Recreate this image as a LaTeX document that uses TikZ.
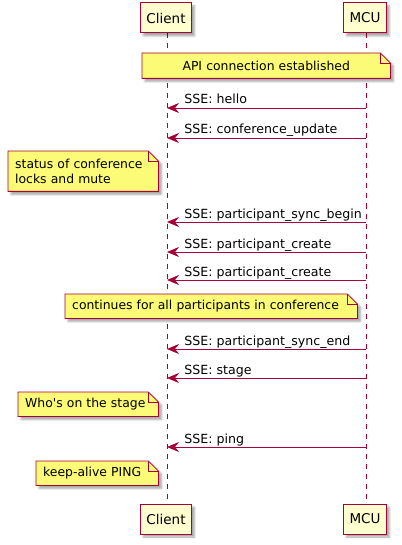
\documentclass[tikz,border=0pt]{standalone}
\usepackage{fontspec}
\setmainfont{DejaVu Sans}
\usetikzlibrary{positioning, arrows.meta, backgrounds, shadows.blur}
\definecolor{umlred}{HTML}{A80036}
\definecolor{partfill}{HTML}{FEFECE}
\definecolor{notefill}{HTML}{FBFB77}

% note body with folded corner, drawn behind the note text
\newcommand{\foldnote}[1]{%
  \begin{pgfonlayer}{background}
    \path[draw=umlred, fill=notefill, line width=0.8pt,
      blur shadow={shadow xshift=3pt, shadow yshift=-3pt, shadow blur radius=2pt, shadow opacity=35}]
      (#1.south west) -- (#1.north west) -- ([xshift=-10pt]#1.north east)
      -- ([yshift=-10pt]#1.north east) -- (#1.south east) -- cycle;
    \draw[umlred, line width=0.8pt] ([xshift=-10pt]#1.north east) |- ([yshift=-10pt]#1.north east);
  \end{pgfonlayer}}

\begin{document}
\begin{tikzpicture}[
      x=1pt, y=-1pt, >=Stealth,
      partbox/.style={rectangle, draw=umlred, fill=partfill, line width=1pt,
        minimum height=30pt, inner xsep=6pt, font=\fontsize{13.5}{15}\selectfont, text=black,
        blur shadow={shadow xshift=3pt, shadow yshift=-3pt, shadow blur radius=2pt, shadow opacity=35}},
      lifeline/.style={draw=umlred, line width=0.8pt, dash pattern=on 5pt off 5pt},
      msg/.style={->, draw=umlred, line width=0.8pt, >={Stealth[length=12pt, width=10pt, inset=4pt]}},
      msglabel/.style={pos=1, anchor=base west, xshift=17pt, yshift=4pt, inner sep=0pt,
        font=\fontsize{12.6}{15}\selectfont, text=black},
      notebox/.style 2 args={anchor=north west, minimum width=#1, minimum height=#2,
        text width=#1-14pt, inner xsep=7pt, inner ysep=3pt, align=left,
        font=\fontsize{12.4}{15}\selectfont, text=black}
    ]
    \useasboundingbox (0,0) rectangle (401,545);
    % Participants
    \node[partbox] (clientTop) at (166,18) {Client};
    \node[partbox] (mcuTop) at (365,18) {MCU};
    \node[partbox] (clientBot) at (166,519) {Client};
    \node[partbox] (mcuBot) at (365,519) {MCU};
    \begin{pgfonlayer}{background}
      \draw[lifeline] ([xshift=1pt]clientTop.south) -- ([xshift=1pt]clientBot.north);
      \draw[lifeline] ([xshift=1pt]mcuTop.south) -- ([xshift=1pt]mcuBot.north);
    \end{pgfonlayer}
    % Notes
    \node[notebox={248pt}{25pt}, align=center] (apinote) at (142,53) {API connection established};
    \foldnote{apinote}
    \node[notebox={150pt}{40pt}] (statusnote) at (8,151) {status of conference\\locks and mute};
    \foldnote{statusnote}
    \node[notebox={292pt}{24pt}] (contnote) at (65,294) {continues for all participants in conference};
    \foldnote{contnote}
    \node[notebox={140pt}{24pt}] (stagenote) at (18,392) {Who\textquotesingle s on the stage};
    \foldnote{stagenote}
    \node[notebox={122pt}{24pt}] (pingnote) at (36,461) {keep-alive PING};
    \foldnote{pingnote}
    % Messages MCU -> Client
    \coordinate (m1) at (366,108); \coordinate (c1) at (167,108);
    \draw[msg] (m1) -- (c1) node[msglabel] {SSE: hello};
    \coordinate (m2) at (366,138); \coordinate (c2) at (167,138);
    \draw[msg] (m2) -- (c2) node[msglabel] {SSE: conference\_update};
    \coordinate (m3) at (366,222); \coordinate (c3) at (167,222);
    \draw[msg] (m3) -- (c3) node[msglabel] {SSE: participant\_sync\_begin};
    \coordinate (m4) at (366,252); \coordinate (c4) at (167,252);
    \draw[msg] (m4) -- (c4) node[msglabel] {SSE: participant\_create};
    \coordinate (m5) at (366,280); \coordinate (c5) at (167,280);
    \draw[msg] (m5) -- (c5) node[msglabel] {SSE: participant\_create};
    \coordinate (m6) at (366,349); \coordinate (c6) at (167,349);
    \draw[msg] (m6) -- (c6) node[msglabel] {SSE: participant\_sync\_end};
    \coordinate (m7) at (366,378); \coordinate (c7) at (167,378);
    \draw[msg] (m7) -- (c7) node[msglabel] {SSE: stage};
    \coordinate (m8) at (366,447); \coordinate (c8) at (167,447);
    \draw[msg] (m8) -- (c8) node[msglabel] {SSE: ping};
\end{tikzpicture}
\end{document}
